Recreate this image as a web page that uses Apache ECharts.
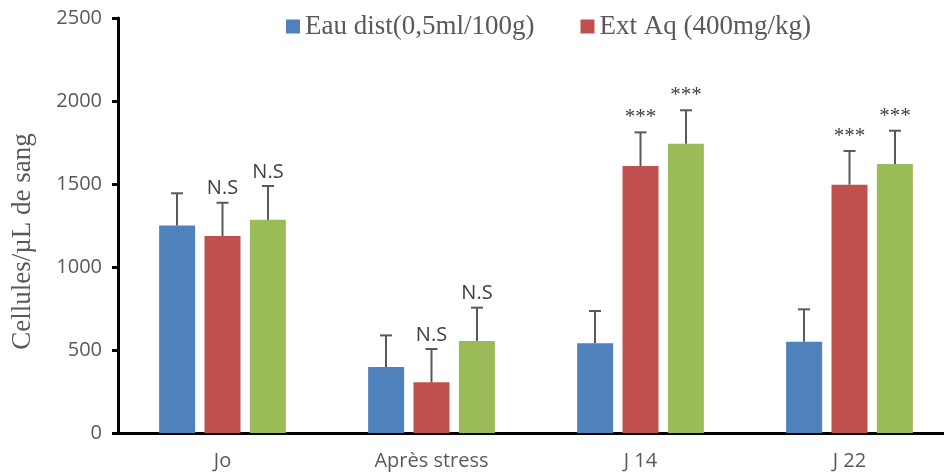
<!DOCTYPE html>
<html>
<head>
<meta charset="utf-8">
<script src="https://cdn.jsdelivr.net/npm/echarts@6/dist/echarts.min.js"></script>
<style>html,body{margin:0;padding:0;background:#fff;}#c{width:944px;height:476px;}</style>
</head>
<body>
<div id="c"></div>
<script>
var categories = ['Jo', 'Après stress', 'J 14', 'J 22'];
var seriesNames = ['Eau dist(0,5ml/100g)', 'Ext Aq (400mg/kg)', 'Série 3'];
var blueValues = [1250, 398, 540, 550];
var redValues = [1187, 305, 1608, 1496];
var greenValues = [1285, 554, 1743, 1620];
var blueErr = [194, 190, 195, 195];
var redErr = [200, 201, 203, 203];
var greenErr = [203, 201, 201, 201];
var blueSig = ['', '', '', ''];
var redSig = ['N.S', 'N.S', '***', '***'];
var greenSig = ['N.S', 'N.S', '***', '***'];
var yTicks = [0, 500, 1000, 1500, 2000, 2500];

var colors = ['#4F81BD', '#C0504D', '#9BBB59'];
var allVals = [blueValues, redValues, greenValues];
var allErr = [blueErr, redErr, greenErr];
var allSig = [blueSig, redSig, greenSig];
var offsets = [-45.5, 0, 45.5];

function errSeries(k) {
  var data = allVals[k].map(function (v, i) { return [i, v, v + allErr[k][i]]; });
  return {
    type: 'custom',
    z: 5,
    silent: true,
    data: data,
    renderItem: function (params, api) {
      var i = api.value(0);
      var base = api.coord([i, api.value(1)]);
      var top = api.coord([i, api.value(2)]);
      var x = base[0] + offsets[k];
      var sig = allSig[k][i];
      var children = [
        { type: 'line', shape: { x1: x, y1: base[1], x2: x, y2: top[1] }, style: { stroke: '#595959', lineWidth: 2 } },
        { type: 'line', shape: { x1: x - 6, y1: top[1], x2: x + 6, y2: top[1] }, style: { stroke: '#595959', lineWidth: 2 } }
      ];
      if (sig) {
        var isStar = sig === '***';
        children.push({
          type: 'text',
          style: {
            text: sig, x: x, y: top[1] - 4,
            align: 'center', verticalAlign: 'bottom',
            fill: '#404040',
            font: isStar ? '21px "Liberation Serif"' : '20px "Open Sans"'
          }
        });
      }
      return { type: 'group', children: children };
    }
  };
}

var series = [];
for (var k = 0; k < 3; k++) {
  series.push({
    name: seriesNames[k],
    type: 'bar',
    data: allVals[k],
    barWidth: 36,
    barGap: '26%',
    itemStyle: { color: colors[k] }
  });
}
for (var k2 = 0; k2 < 3; k2++) series.push(errSeries(k2));

var chart = echarts.init(document.getElementById('c'));
chart.setOption({
  animation: false,
  color: colors,
  legend: {
    data: [seriesNames[0], seriesNames[1]],
    top: 13,
    left: 286,
    padding: 0,
    itemWidth: 14,
    itemHeight: 14,
    itemGap: 46,
    icon: 'rect',
    textStyle: { fontFamily: 'Liberation Serif', fontSize: 27, color: '#595959' }
  },
  grid: { left: 118, right: -10, top: 18, bottom: 43, containLabel: false, outerBoundsMode: 'none' },
  xAxis: {
    type: 'category',
    data: categories,
    axisLine: { lineStyle: { color: '#000', width: 3 } },
    axisTick: { show: false },
    axisLabel: { color: '#595959', fontFamily: 'Open Sans', fontSize: 20, margin: 18 }
  },
  yAxis: {
    type: 'value',
    min: yTicks[0],
    max: yTicks[yTicks.length - 1],
    interval: 500,
    name: 'Cellules/µL de sang',
    nameLocation: 'middle',
    nameGap: 82,
    nameTextStyle: { fontFamily: 'Liberation Serif', fontSize: 27, color: '#595959', padding: [0, 32, 0, 0] },
    axisLine: { show: true, lineStyle: { color: '#000', width: 3 } },
    axisTick: { show: true, length: 6, lineStyle: { color: '#000', width: 3 } },
    splitLine: { show: false },
    axisLabel: { color: '#595959', fontFamily: 'Open Sans', fontSize: 20, margin: 16, formatter: function (v) { return String(v); } }
  },
  series: series
});
</script>
</body>
</html>
